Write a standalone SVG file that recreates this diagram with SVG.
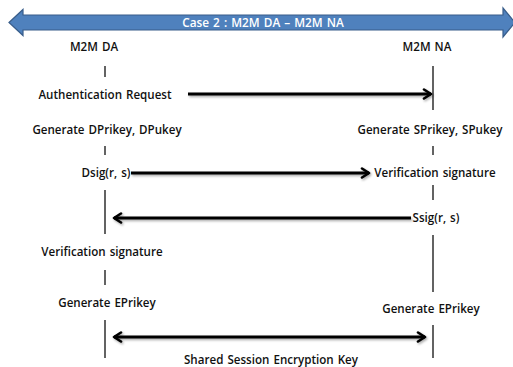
<svg xmlns="http://www.w3.org/2000/svg" width="513" height="367" viewBox="0 0 513 367">
  <style>
    .lbl { font-family: "Open Sans", "Liberation Sans", sans-serif; font-size: 11.6px; font-weight: 600; fill: #111; text-anchor: middle; word-spacing: 1px; }
    .title { font-family: "Open Sans", "Liberation Sans", sans-serif; font-size: 11.8px; font-weight: 600; fill: #fff; text-anchor: middle; word-spacing: 1px; }
    .life { stroke: #222; stroke-width: 1.4; fill: none; }
    .msg { stroke: #000; stroke-width: 3; fill: none; filter: url(#shadow); }
  </style>
  <defs>
    <filter id="shadow" filterUnits="userSpaceOnUse" x="0" y="0" width="513" height="367">
      <feDropShadow dx="1.2" dy="1.5" stdDeviation="0.9" flood-color="#000" flood-opacity="0.35"/>
    </filter>
    <marker id="head" viewBox="0 0 12 12" refX="10" refY="6" markerWidth="12" markerHeight="12" markerUnits="userSpaceOnUse" orient="auto-start-reverse">
      <path d="M3,1.5 L10,6 L3,10.5" fill="none" stroke="#000" stroke-width="2.6" stroke-linecap="round" stroke-linejoin="round"/>
    </marker>
  </defs>

  <!-- banner arrow -->
  <g id="banner">
    <path d="M9,22.5 L23,9.5 L23,15 L503,15 L503,8 L515,22.5 L503,37 L503,30 L23,30 L23,35.5 Z" fill="#4F81BD" stroke="#385D8A" stroke-width="1.2"/>
    <text class="title" x="263" y="26.5">Case 2 : M2M DA – M2M NA</text>
  </g>

  <!-- device agent lifeline -->
  <g id="da">
    <text class="lbl" x="94" y="51">M2M DA</text>
    <path class="life" d="M105,66 V77 M105,146 V155 M105,190 V234 M105,270 V285 M105,320 V358"/>
    <text class="lbl" x="105" y="99">Authentication Request</text>
    <text class="lbl" x="107" y="134">Generate DPrikey, DPukey</text>
    <text class="lbl" x="106" y="177">Dsig(r, s)</text>
    <text class="lbl" x="102" y="256">Verification signature</text>
    <text class="lbl" x="107" y="307">Generate EPrikey</text>
  </g>

  <!-- network agent lifeline -->
  <g id="na">
    <text class="lbl" x="427" y="51">M2M NA</text>
    <path class="life" d="M433,66 V110 M433,146 V155 M433,185 V200 M433,235 V292 M433,325 V358"/>
    <text class="lbl" x="430" y="134">Generate SPrikey, SPukey</text>
    <text class="lbl" x="435" y="177">Verification signature</text>
    <text class="lbl" x="436" y="222">Ssig(r, s)</text>
    <text class="lbl" x="431" y="313">Generate EPrikey</text>
  </g>

  <!-- messages -->
  <g id="connectors">
    <path class="msg" d="M188,94 H431" marker-end="url(#head)"/>
    <path class="msg" d="M131,173 H369" marker-end="url(#head)"/>
    <path class="msg" d="M411,218 H114" marker-end="url(#head)"/>
    <path class="msg" d="M114,337 H425" marker-start="url(#head)" marker-end="url(#head)"/>
  </g>
  <text class="lbl" x="271" y="364">Shared Session Encryption Key</text>
</svg>
